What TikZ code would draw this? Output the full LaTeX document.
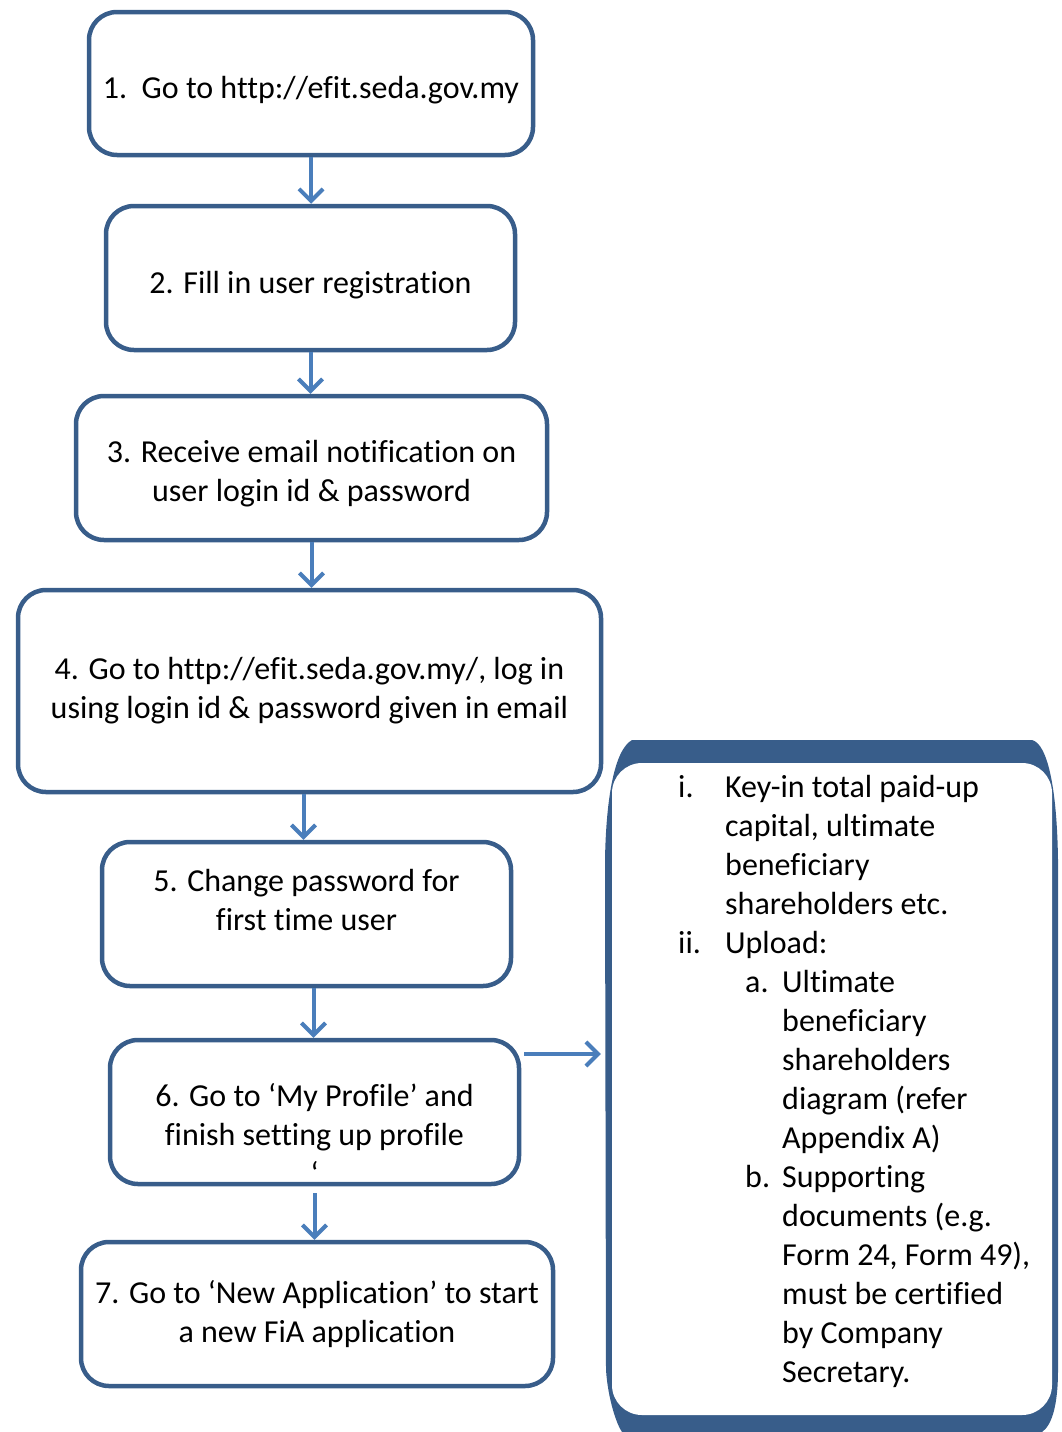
\documentclass[tikz,border=0pt]{standalone}
\usepackage{fontspec}
\setmainfont[Ligatures={NoCommon}]{Carlito}
\usetikzlibrary{arrows.meta}
\definecolor{boxblue}{HTML}{385D8A}
\definecolor{arrowblue}{HTML}{4A7EBB}
\tikzset{
  stepbox/.style={draw=boxblue, line width=4.5pt, rounded corners=28pt, minimum height=144pt, inner sep=0pt, align=center},
  steptext/.style={align=center, inner sep=0pt},
  flow/.style={draw=arrowblue, line width=4pt, -{Straight Barb[length=12pt,width=24pt]}}
}
\newcommand{\lbl}[2]{\makebox[#1][l]{#2}}
\begin{document}
\begin{tikzpicture}[x=1pt, y=-1pt, font=\fontsize{32}{39}\selectfont]
	    \useasboundingbox (0,0) rectangle (1061,1432);
	    \node[stepbox, minimum width=444pt, minimum height=143pt, label={[steptext, yshift=-7pt]center:{1.~~Go to http://efit.seda.gov.my}}] (s1) at (311,83.5) {};
	    \node[stepbox, minimum width=409pt, label={[steptext, yshift=-7pt]center:{2. Fill in user registration}}] (s2) at (310.5,278) {};
	    \node[stepbox, minimum width=471pt, label={[steptext, yshift=-6pt]center:{3. Receive email notification on\\user login id \& password}}] (s3) at (311.5,468) {};
	    \node[stepbox, minimum width=583pt, minimum height=202pt] (s4) at (309.5,691) {4. Go to http://efit.seda.gov.my/, log in\\using login id \& password given in email};
	    \node[stepbox, minimum width=409pt, label={[steptext, yshift=14.5pt]center:{5. Change password for\\first time user}}] (s5) at (306.5,914) {};
	    \node[stepbox, minimum width=409pt, label={[steptext, yshift=-22pt]center:{6. Go to ‘My Profile’ and\\finish setting up profile\\‘}}] (s6) at (314.5,1112) {};
	    \node[stepbox, minimum width=472pt] (s7) at (317,1314) {7. Go to ‘New Application’ to start\\a new FiA application};
	    % panel on the right
	    \node[minimum width=453pt, minimum height=692pt, inner sep=0pt] (details) at (831.5,1086) {};
	    \fill[boxblue] (632,740) -- (1032,740) .. controls (1048,744) and (1057,790) .. (1058,860) -- (1058,1370) .. controls (1058,1405) and (1052,1425) .. (1042,1432) -- (622,1432) .. controls (617,1425) and (608,1400) .. (606,1370) -- (605,860) .. controls (606,800) and (614,750) .. (632,740) -- cycle;
	    \fill[white, rounded corners=30pt] (612,763) rectangle (1052,1415);
	    \node[anchor=north west, align=left, inner sep=0pt] (paneltext) at (678,775) {\lbl{47pt}{i.}Key-in total paid-up\\
	      \hspace*{47pt}capital, ultimate\\
	      \hspace*{47pt}beneficiary\\
	      \hspace*{47pt}shareholders etc.\\
	      \lbl{47pt}{ii.}Upload:\\
	      \hspace*{67pt}\lbl{37pt}{a.}Ultimate\\
	      \hspace*{104pt}beneficiary\\
	      \hspace*{104pt}shareholders\\
	      \hspace*{104pt}diagram (refer\\
	      \hspace*{104pt}Appendix A)\\
	      \hspace*{67pt}\lbl{37pt}{b.}Supporting\\
	      \hspace*{104pt}documents (e.g.\\
	      \hspace*{104pt}Form 24, Form 49),\\
	      \hspace*{104pt}must be certified\\
	      \hspace*{104pt}by Company\\
	      \hspace*{104pt}Secretary.};
	    % arrows
	    \draw[flow] (s1.south) -- (s1.south |- s2.north);
	    \draw[flow] (s2.south) -- (s2.south |- s3.north);
	    \draw[flow] (s3.south) -- (s3.south |- s4.north);
	    \draw[flow] ([xshift=-6pt]s4.south) -- ([xshift=-6pt]s4.south |- s5.north);
	    \draw[flow] ([xshift=7pt]s5.south) -- ([xshift=7pt]s5.south |- s6.north);
	    \draw[flow, shorten <=7pt] (s6.south) -- (s6.south |- s7.north);
	    \draw[flow, shorten <=3pt, shorten >=4pt] ([yshift=58pt]s6.east) -- ([yshift=58pt]s6.east -| details.west);
	\end{tikzpicture}
\end{document}
